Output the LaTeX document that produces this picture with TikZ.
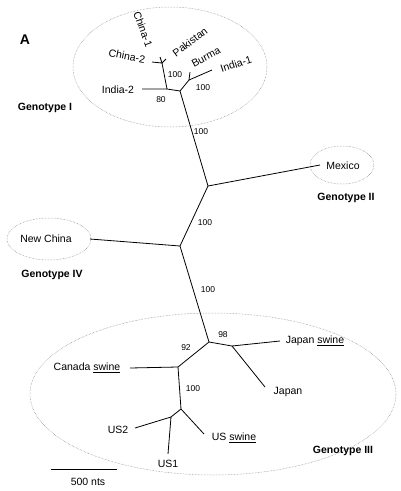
\documentclass[tikz,border=0pt]{standalone}
\usepackage{fontspec}
\setmainfont{Liberation Sans}
\begin{document}
\begin{tikzpicture}[x=1pt,y=-1pt,
  br/.style={line width=0.8pt},
  grp/.style={densely dotted, gray, line width=0.5pt},
  lab/.style={font=\fontsize{10.5}{12}\selectfont, inner sep=0pt},
  bs/.style={font=\fontsize{8.5}{10}\selectfont, inner sep=0pt},
  gen/.style={font=\bfseries\fontsize{10.5}{12}\selectfont, inner sep=0pt}]
\useasboundingbox (0,0) rectangle (400,491);
% group ellipses
\draw[grp] (170,67) ellipse [x radius=97, y radius=60];
\draw[grp] (342,165) ellipse [x radius=32, y radius=19];
\draw[grp] (49,239) ellipse [x radius=42, y radius=21];
\draw[grp] (213,394) ellipse [x radius=183, y radius=81];
% coordinates
\coordinate (jI) at (180,91);
\coordinate (jC) at (162,63);
\coordinate (jIn2) at (167,89);
\coordinate (eC2) at (152,62);
\coordinate (eC1) at (160,57);
\coordinate (ePk) at (166,59);
\coordinate (eIn2) at (142,89);
\coordinate (jB) at (189,80);
\coordinate (eB) at (190,72);
\coordinate (eIn1) at (212,70);
\coordinate (jM) at (208,186);
\coordinate (eM) at (320,165);
\coordinate (jN) at (180,246);
\coordinate (eN) at (90,239);
\coordinate (jIII) at (209,342);
\coordinate (jJ) at (232,346);
\coordinate (eJs) at (280,341);
\coordinate (eJ) at (265,387);
\coordinate (jCa) at (178,367);
\coordinate (eCa) at (130,368);
\coordinate (jU) at (181,409);
\coordinate (eUs) at (204,434);
\coordinate (jU12) at (171,417);
\coordinate (eU2) at (135,428);
\coordinate (eU1) at (168,454);
\coordinate (sbL) at (51,469);
\coordinate (sbR) at (117,469);
% branches
\draw[br] (eC2) -- (jC);
\draw[br] (eC1) -- (jC);
\draw[br] (ePk) -- (jC);
\draw[br] (jC) -- (jIn2);
\draw[br] (eIn2) -- (jIn2) -- (jI);
\draw[br] (jI) -- (jB);
\draw[br] (jB) -- (eB);
\draw[br] (jB) -- (eIn1);
\draw[br] (jI) -- (jM);
\draw[br] (jM) -- (eM);
\draw[br] (jM) -- (jN);
\draw[br] (jN) -- (eN);
\draw[br] (jN) -- (jIII);
\draw[br] (jIII) -- (jJ);
\draw[br] (jJ) -- (eJs);
\draw[br] (jJ) -- (eJ);
\draw[br] (jIII) -- (jCa);
\draw[br] (jCa) -- (eCa);
\draw[br] (jCa) -- (jU);
\draw[br] (jU) -- (eUs);
\draw[br] (jU) -- (jU12);
\draw[br] (jU12) -- (eU2);
\draw[br] (jU12) -- (eU1);
\draw[br] (sbL) -- (sbR);
% labels
\node[font=\bfseries\fontsize{14}{16}\selectfont, inner sep=0pt] (A) at (25,40) {A};
\node[lab, rotate=-70] (lC1) at (143,29) {China-1};
\node[lab, rotate=-11] (lC2) at (127,56) {China-2};
\node[lab, rotate=37] (lPk) at (190,42) {Pakistan};
\node[lab, rotate=28] (lB) at (206,57) {Burma};
\node[lab, rotate=18] (lIn1) at (236,64) {India-1};
\node[lab] (lIn2) at (118,90) {India-2};
\node[bs] (b1) at (175,75) {100};
\node[bs] (b2) at (161,100) {80};
\node[bs] (b3) at (203,88) {100};
\node[bs] (b4) at (201,132) {100};
\node[bs] (b5) at (205,223) {100};
\node[bs] (b6) at (208,290) {100};
\node[bs] (b7) at (223,335) {98};
\node[bs] (b8) at (186,348) {92};
\node[bs] (b9) at (193,389) {100};
\node[lab] (lM) at (343,166) {Mexico};
\node[lab] (lN) at (46,239) {New China};
\node[lab] (lJs) at (315,341) {Japan \underline{swine}};
\node[lab] (lJ) at (288,392) {Japan};
\node[lab] (lCa) at (87,368) {Canada \underline{swine}};
\node[lab] (lUs) at (234,438) {US \underline{swine}};
\node[lab] (lU2) at (118,430) {US2};
\node[lab] (lU1) at (168,464) {US1};
\node[lab] (lsb) at (88,482) {500 nts};
\node[gen] (gI) at (45,108) {Genotype I};
\node[gen] (gII) at (346,198) {Genotype II};
\node[gen] (gIV) at (52,275) {Genotype IV};
\node[gen] (gIII) at (343,451) {Genotype III};
\end{tikzpicture}
\end{document}
